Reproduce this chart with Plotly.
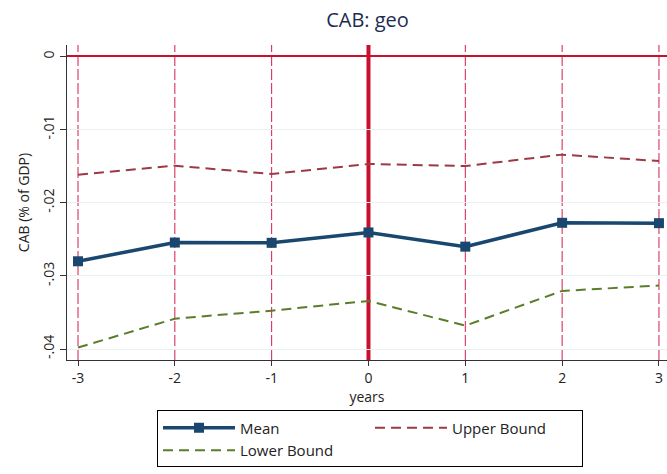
import plotly.graph_objects as go

years = [-3, -2, -1, 0, 1, 2, 3]
year_labels = ["-3", "-2", "-1", "0", "1", "2", "3"]
mean_vals = [-0.0280, -0.02544, -0.02548, -0.02406, -0.0260, -0.02274, -0.02279]
upper_vals = [-0.01616, -0.01493, -0.01607, -0.0147, -0.01498, -0.01342, -0.01429]
lower_vals = [-0.0398, -0.03585, -0.03475, -0.03342, -0.0368, -0.03205, -0.03132]
y_ticks = [0, -0.01, -0.02, -0.03, -0.04]
y_ticktext = ["0", "-.01", "-.02", "-.03", "-.04"]

FONT = "Open Sans"
RED = "#c8102e"

fig = go.Figure()
fig.add_trace(go.Scatter(x=years, y=mean_vals, name="Mean", mode="lines+markers",
                         line=dict(color="#1a476f", width=3.5),
                         marker=dict(symbol="square", size=10, color="#1a476f")))
fig.add_trace(go.Scatter(x=years, y=upper_vals, name="Upper Bound", mode="lines",
                         line=dict(color="#9c3a44", width=2, dash="10px,6px")))
fig.add_trace(go.Scatter(x=years, y=lower_vals, name="Lower Bound", mode="lines",
                         line=dict(color="#5a7d2a", width=2, dash="10px,6px")))

shapes = []
for yr in years:
    if yr == 0:
        continue
    shapes.append(dict(type="line", xref="x", yref="y domain", x0=yr, x1=yr, y0=0, y1=1,
                       line=dict(color="#d41c4a", width=1, dash="11px,3px"), layer="below"))
shapes.append(dict(type="line", xref="x", yref="y domain", x0=0, x1=0, y0=0, y1=1,
                   line=dict(color=RED, width=4), layer="below"))

fig.update_layout(
    width=667, height=474,
    margin=dict(l=67, r=0, t=45, b=114),
    paper_bgcolor="white", plot_bgcolor="white",
    font=dict(family=FONT, size=14, color="#222"),
    title=dict(text="CAB: geo", x=0.551, xanchor="center", y=0.958, yanchor="middle",
               font=dict(family=FONT, size=20, color="#1e2d4f")),
    shapes=shapes,
    showlegend=True,
    legend=dict(orientation="h", x=0.505, xanchor="center", y=-0.16, yanchor="top",
                entrywidth=125, entrywidthmode="pixels",
                bordercolor="#000", borderwidth=1, bgcolor="white",
                font=dict(family=FONT, size=15, color="#222"),
                tracegroupgap=0, itemwidth=72),
)
fig.update_xaxes(range=[-3.1136, 3.083], tickvals=years, ticktext=year_labels,
                 ticks="outside", ticklen=5,
                 tickcolor="#333", showline=True, linecolor="#333", linewidth=1,
                 showgrid=False, zeroline=False,
                 tickfont=dict(family=FONT, size=14, color="#222"),
                 title=dict(text="years", standoff=1, font=dict(family=FONT, size=14, color="#222")))
fig.update_yaxes(range=[-0.0415, 0.00157], tickvals=y_ticks, ticktext=y_ticktext,
                 tickangle=-90, ticks="outside", ticklen=6, tickcolor="#333",
                 showline=True, linecolor="#333", linewidth=1,
                 showgrid=True, gridcolor="#e8f0f2", gridwidth=1,
                 zeroline=True, zerolinecolor=RED, zerolinewidth=1.5,
                 tickfont=dict(family=FONT, size=14, color="#222"),
                 title=dict(text="CAB (% of GDP)", standoff=6, font=dict(family=FONT, size=14, color="#222")))

fig.write_html("out.html")
